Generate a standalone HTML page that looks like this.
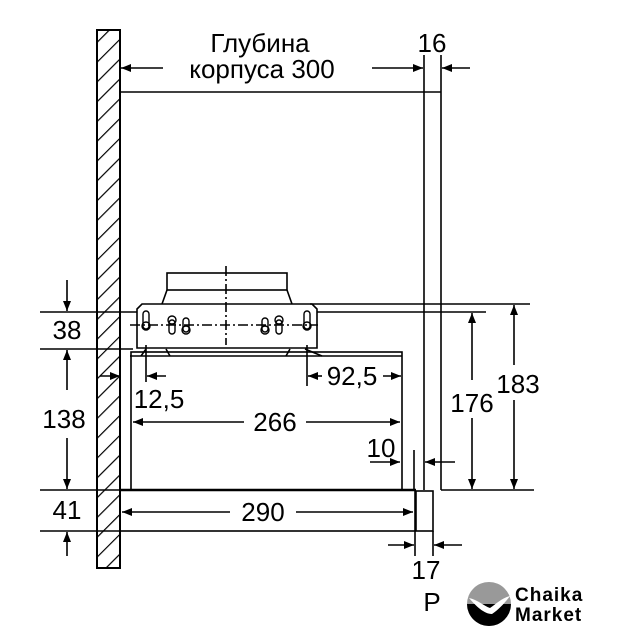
<!DOCTYPE html>
<html><head><meta charset="utf-8"><style>
html,body{margin:0;padding:0;background:#fff}
svg{display:block}
text{font-family:"Liberation Sans",sans-serif;fill:#000}
</style></head><body>
<svg width="640" height="640" viewBox="0 0 640 640" xmlns="http://www.w3.org/2000/svg">
<defs>
<pattern id="h" patternUnits="userSpaceOnUse" width="14" height="14" patternTransform="rotate(45)">
<line x1="0" y1="0" x2="0" y2="14" stroke="#000" stroke-width="2.4"/>
</pattern>
<marker id="a" markerWidth="10" markerHeight="8" refX="10" refY="4" orient="auto" markerUnits="userSpaceOnUse">
<path d="M0,0 L10,4 L0,8 Z" fill="#000"/>
</marker>
</defs>
<g stroke="#000" fill="none" stroke-width="1.6">
<rect x="97" y="30" width="23" height="538" fill="url(#h)" stroke-width="2"/>
<line x1="120" y1="92" x2="441" y2="92"/>
<line x1="424" y1="92" x2="424" y2="490"/>
<line x1="441" y1="92" x2="441" y2="490"/>
<line x1="310" y1="304" x2="530" y2="304"/>
<line x1="40" y1="312" x2="137" y2="312"/>
<line x1="317" y1="312" x2="486" y2="312"/>
<line x1="40" y1="349" x2="133" y2="349"/>
<line x1="40" y1="490" x2="120" y2="490"/>
<line x1="441" y1="490" x2="534" y2="490"/>
<line x1="40" y1="531" x2="120" y2="531"/>
<rect x="131" y="352" width="271" height="138"/>
<line x1="120" y1="490" x2="416" y2="490" stroke-width="2.4"/>
<rect x="120" y="490" width="295" height="41"/>
<rect x="416" y="491" width="17" height="40"/>
<rect x="167" y="273" width="120" height="17"/>
<path d="M162,304 L167,290 M287,290 L292,304"/>
<path d="M137,348 L137,309 L142,304 L312,304 L317,309 L317,348 Z"/>
<path d="M141,356 L146,349 M166,349 L170,356 M286,356 L290,349 M305,349 L322,356"/>
<line x1="130" y1="356" x2="402" y2="356"/>
<line x1="226" y1="266" x2="226" y2="345" stroke-dasharray="10,3,2,3"/>
<line x1="130" y1="325" x2="318" y2="325" stroke-dasharray="10,3,2,3"/>
<g stroke-width="1.4">
<rect x="143" y="311" width="6" height="18" rx="3"/><circle cx="146" cy="326" r="4"/>
<rect x="304" y="311" width="6" height="18" rx="3"/><circle cx="307" cy="326" r="4"/>
<circle cx="172" cy="320" r="4"/><rect x="169" y="320" width="6" height="14" rx="3"/>
<circle cx="186" cy="330" r="4"/><rect x="183" y="318" width="6" height="14" rx="3"/>
<circle cx="265" cy="330" r="4"/><rect x="262" y="318" width="6" height="14" rx="3"/>
<circle cx="279" cy="320" r="4"/><rect x="276" y="320" width="6" height="14" rx="3"/>
</g>
<line x1="146" y1="345" x2="146" y2="382"/>
<line x1="307" y1="345" x2="307" y2="386"/>
<line x1="424" y1="55" x2="424" y2="92"/>
<line x1="441" y1="55" x2="441" y2="92"/>
<line x1="414" y1="450" x2="414" y2="490"/>
<line x1="415" y1="531" x2="415" y2="556"/>
<line x1="433" y1="531" x2="433" y2="556"/>
<g marker-end="url(#a)">
<line x1="163" y1="68" x2="121" y2="68"/>
<line x1="372" y1="68" x2="423" y2="68"/>
<line x1="470" y1="68" x2="442" y2="68"/>
<line x1="67" y1="280" x2="67" y2="311"/>
<line x1="67" y1="390" x2="67" y2="350"/>
<line x1="67" y1="438" x2="67" y2="489"/>
<line x1="67" y1="556" x2="67" y2="532"/>
<line x1="100" y1="376" x2="120" y2="376"/>
<line x1="166" y1="376" x2="147" y2="376"/>
<line x1="322" y1="376" x2="308" y2="376"/>
<line x1="383" y1="376" x2="401" y2="376"/>
<line x1="244" y1="422" x2="133" y2="422"/>
<line x1="306" y1="422" x2="400" y2="422"/>
<line x1="370" y1="462" x2="400" y2="462"/>
<line x1="455" y1="462" x2="425" y2="462"/>
<line x1="230" y1="512" x2="122" y2="512"/>
<line x1="296" y1="512" x2="413" y2="512"/>
<line x1="388" y1="545" x2="414" y2="545"/>
<line x1="462" y1="545" x2="434" y2="545"/>
<line x1="472" y1="380" x2="472" y2="313"/>
<line x1="472" y1="418" x2="472" y2="489"/>
<line x1="514" y1="365" x2="514" y2="305"/>
<line x1="514" y1="400" x2="514" y2="489"/>
</g>
</g>
<g font-size="26" text-anchor="middle">
<text x="260" y="52">Глубина</text>
<text x="262" y="78">корпуса 300</text>
<text x="432" y="52">16</text>
<text x="67" y="339">38</text>
<text x="64" y="428">138</text>
<text x="67" y="519">41</text>
<text x="159" y="408">12,5</text>
<text x="352" y="385">92,5</text>
<text x="275" y="431">266</text>
<text x="381" y="457">10</text>
<text x="472" y="412">176</text>
<text x="518" y="393">183</text>
<text x="263" y="521">290</text>
<text x="426" y="579">17</text>
<text x="432" y="611">P</text>
</g>
<circle cx="489" cy="604" r="22" fill="#999"/>
<path d="M467,604 A22,22 0 0 0 511,604 Z" fill="#000"/>
<path d="M469,598 C478,600 484,606 490,608 C496,604 502,598 510,596 C504,604 498,610 492,614 C484,614 476,606 469,598 Z" fill="#fff"/>
<text x="515" y="601" font-size="19" font-weight="bold" letter-spacing="1">Chaika</text>
<text x="515" y="621" font-size="19" font-weight="bold" letter-spacing="1">Market</text>
</svg>
</body></html>
